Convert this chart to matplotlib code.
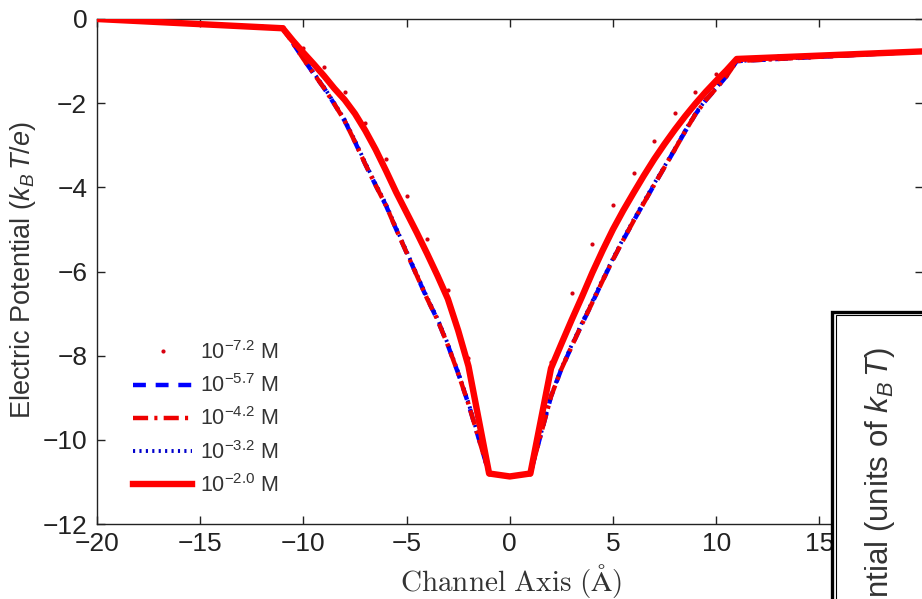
import matplotlib
matplotlib.use("Agg")
import matplotlib.pyplot as plt
from matplotlib.patches import Rectangle

plt.rcParams['font.family'] = ['Liberation Sans', 'DejaVu Sans']
plt.rcParams['mathtext.fontset'] = 'custom'
plt.rcParams['mathtext.rm'] = 'Liberation Sans'
plt.rcParams['mathtext.it'] = 'Liberation Sans:italic'
plt.rcParams['mathtext.bf'] = 'Liberation Sans:bold'

# ---------------- data ----------------
x_dots = list(range(-20, 21))
y_dots_7p2 = [0.0, -0.02, -0.04, -0.06, -0.08, -0.10, -0.12, -0.14, -0.17, -0.20,
              -0.70, -1.14, -1.74, -2.48, -3.33, -4.20, -5.22, -6.44, -8.06, -10.80,
              -10.87,
              -10.80, -8.14, -6.52, -5.35, -4.42, -3.65, -2.89, -2.24, -1.74, -1.30,
              -0.93, -0.91, -0.89, -0.87, -0.85, -0.84, -0.82, -0.80, -0.79, -0.77]

x_curve = [-20, -11, -10.5, -10, -9.5, -9, -8.5, -8, -7.5, -7, -6.5, -6, -5.5, -5,
           -4.5, -4, -3.5, -3, -2.5, -2, -1, 0, 1, 2, 2.5, 3, 3.5, 4, 4.5, 5, 5.5,
           6, 6.5, 7, 7.5, 8, 8.5, 9, 9.5, 10, 10.5, 11, 20]
y_5p7 = [0.0, -0.22, -0.58, -0.95, -1.30, -1.64, -2.02, -2.42, -2.92, -3.45, -3.95, -4.43, -5.00, -5.55,
         -6.10, -6.65, -7.15, -7.75, -8.42, -9.15, -10.80, -10.87, -10.80, -8.97, -8.32, -7.78, -7.25, -6.74, -6.22, -5.72, -5.25,
         -4.80, -4.37, -3.94, -3.52, -3.10, -2.67, -2.26, -1.93, -1.65, -1.36, -1.00, -0.77]
y_4p2 = [0.0, -0.22, -0.58, -0.95, -1.30, -1.64, -2.02, -2.42, -2.92, -3.45, -3.95, -4.43, -5.00, -5.55,
         -6.10, -6.65, -7.15, -7.75, -8.42, -9.15, -10.80, -10.87, -10.80, -8.97, -8.32, -7.78, -7.25, -6.74, -6.22, -5.72, -5.25,
         -4.80, -4.37, -3.94, -3.52, -3.10, -2.67, -2.26, -1.93, -1.65, -1.36, -1.00, -0.77]
y_3p2 = [0.0, -0.22, -0.56, -0.93, -1.28, -1.62, -2.00, -2.39, -2.89, -3.42, -3.92, -4.40, -4.97, -5.52,
         -6.07, -6.62, -7.12, -7.72, -8.39, -9.12, -10.80, -10.87, -10.80, -8.95, -8.30, -7.75, -7.22, -6.71, -6.19, -5.69, -5.22,
         -4.77, -4.34, -3.91, -3.50, -3.08, -2.65, -2.24, -1.92, -1.64, -1.35, -1.00, -0.77]
y_2p0 = [0.0, -0.22, -0.52, -0.80, -1.07, -1.35, -1.65, -1.92, -2.25, -2.65, -3.10, -3.60, -4.12, -4.60,
         -5.08, -5.58, -6.10, -6.65, -7.40, -8.25, -10.80, -10.87, -10.80, -8.30, -7.72, -7.15, -6.60, -6.03, -5.50, -5.00, -4.55,
         -4.13, -3.72, -3.33, -2.97, -2.63, -2.31, -2.01, -1.73, -1.47, -1.22, -0.95, -0.77]

labels = [r'$10^{-7.2}$ M', r'$10^{-5.7}$ M', r'$10^{-4.2}$ M', r'$10^{-3.2}$ M', r'$10^{-2.0}$ M']
x_ticks = [-20, -15, -10, -5, 0, 5, 10, 15, 20]
y_ticks = [-12, -10, -8, -6, -4, -2, 0]

# ---------------- figure ----------------
W, H = 922, 599
fig = plt.figure(figsize=(W / 100, H / 100), dpi=100)
left, right, top, bottom = 97, 922.5, 19, 524
aw, ah = right - left, bottom - top
ax = fig.add_axes([left / W, 1 - bottom / H, aw / W, ah / H])

ax.plot(x_dots, y_dots_7p2, linestyle='none', marker='o', ms=3.0, color='#d80010',
        mec='none', label=labels[0], zorder=2.4)
ax.plot(x_curve, y_5p7, color='#0000ff', lw=3.2, dashes=(2.9, 2.2), label=labels[1], zorder=2.0)
ax.plot(x_curve, y_4p2, color='#ee0000', lw=3.2, dashes=(3.4, 1.4, 0.7, 1.4), label=labels[2], zorder=2.2)
ax.plot(x_curve, y_3p2, color='#0000cc', lw=2.8, dashes=(0.55, 1.1), label=labels[3], zorder=2.1)
ax.plot(x_curve, y_2p0, color='#ff0000', lw=4.6, solid_joinstyle='round', label=labels[4], zorder=3)

ax.set_xlim(-20, 20)
ax.set_ylim(-12, 0)
ax.set_xticks(x_ticks)
ax.set_yticks(y_ticks)
ax.set_xticklabels([(f'\u2212{abs(t)}' if t < 0 else str(t)) if t != 20 else '' for t in x_ticks])
ax.set_yticklabels([f'\u2212{abs(t)}' if t < 0 else str(t) for t in y_ticks])
ax.tick_params(direction='in', length=6, width=1, top=True, right=True,
               labelsize=19, colors='#222222')
ax.tick_params(axis='x', pad=6)
ax.tick_params(axis='y', pad=7)
for s in ax.spines.values():
    s.set_linewidth(1.0)
    s.set_color('#222222')

ax.set_xlabel(r'$\mathrm{Channel\ Axis\ (\AA)}$', fontsize=21, math_fontfamily='cm',
              color='#333333')
ax.xaxis.set_label_coords((511 - left) / aw, -(562 - bottom) / ah)
ax.set_ylabel(r'Electric Potential ($k_B\,T/e$)', fontsize=19.5, color='#333333')
ax.yaxis.set_label_coords(-(left - 38) / aw, (bottom - 270) / ah)

leg = ax.legend(loc='upper left', bbox_to_anchor=(36 / aw, 1 - (341 - top) / ah),
                frameon=False, fontsize=15.5, handlelength=2.75, handletextpad=0.37,
                labelspacing=0.48, borderpad=0, borderaxespad=0)
for t in leg.get_texts():
    t.set_color('#333333')

# ---------------- overlapping inset panel (cut off at the figure edge) ----------------
ox, oy = 832.3, 311.7
outer = Rectangle((ox / W, -0.2), 1.0, (1 - oy / H) + 0.2, transform=fig.transFigure,
                  facecolor='white', edgecolor='black', lw=2.4, zorder=10)
fig.add_artist(outer)
ix, iy = 836.3, 315.3
inner = Rectangle((ix / W, -0.2), 1.0, (1 - iy / H) + 0.2, transform=fig.transFigure,
                  facecolor='none', edgecolor='black', lw=0.8, zorder=11)
fig.add_artist(inner)
fig.text(880 / W, 0.5 / H, r'ntial (units of $k_B\,T$)', rotation=90,
         ha='center', va='bottom', fontsize=22.5, color='#333333', zorder=12)

fig.savefig('out.png', dpi=100)
